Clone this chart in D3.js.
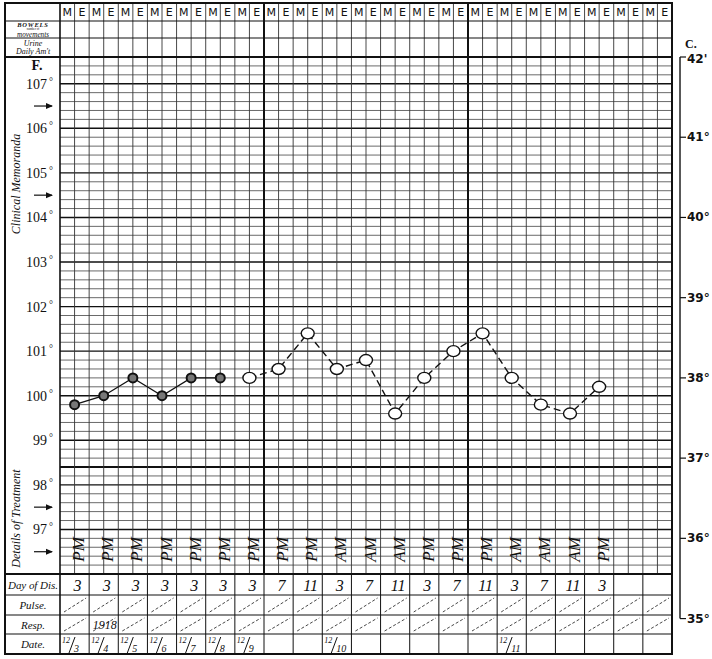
<!DOCTYPE html>
<html><head><meta charset="utf-8">
<script src="https://cdn.jsdelivr.net/npm/d3@7"></script>
<style>body{margin:0;background:#fff}svg{display:block}</style>
</head><body>
<script>
// ---------- data ----------
const dayCount = 21;
const shiftLabels = ["M", "E"];
const tempF = [99.8, 100.0, 100.4, 100.0, 100.4, 100.4, 100.4, 100.6, 101.4, 100.6,
               100.8, 99.6, 100.4, 101.0, 101.4, 100.4, 99.8, 99.6, 100.2];
const filledCount = 6;               // first readings drawn as filled dots, solid line
const meridiem = ["PM","PM","PM","PM","PM","PM","PM","PM","PM","AM",
                  "AM","AM","PM","PM","PM","AM","AM","AM","PM"];
const hourOfDay = ["3","3","3","3","3","3","3","7","11","3",
                   "7","11","3","7","11","3","7","11","3"];
const dateDays = [0, 1, 2, 3, 4, 5, 6, 9, 15];
const dateMonth = ["12","12","12","12","12","12","12","12","12"];
const dateDay = ["3","4","5","6","7","8","9","10","11"];
const yearNoteDay = 1;
const yearNote = "1918";
const fTicks = [107, 106, 105, 104, 103, 102, 101, 100, 99, 98, 97];
const fArrows = [106.5, 104.5, 97.5, 96.5];
const cTicks = [42, 41, 40, 39, 38, 37, 36, 35];
const cTickLabels = ["42'", "41°", "40°", "39°", "38°", "37°", "36°", "35°"];
const normalF = 98.4;

// ---------- layout ----------
const W = 712, H = 659;
const L = 5, C0 = 60, R = 672;
const rowTop = 3, rowHead = 21, rowBowel = 38, chartTop = 57, chartBot = 574;
const rowDay = 595, rowPulse = 615, rowResp = 634, rowDate = 654;

const svg = d3.select("body").append("svg").attr("width", W).attr("height", H);
const nCols = dayCount * 2;
const x = d3.scaleLinear().domain([0, nCols]).range([C0, R]);
const y = d3.scaleLinear().domain([96, 107.6]).range([chartBot, chartTop]);
const dayX = d => x(2 * d + 1);
const serif = "'Liberation Serif','DejaVu Serif',serif";
const ink = "#111";

// ---------- grid ----------
const g = svg.append("g");
const hLines = d3.range(0, 59).map(i => +(96 + i * 0.2).toFixed(1));
const isWhole = d => Math.abs(d - Math.round(d)) < 0.01;
g.selectAll("line.h").data(hLines).join("line")
  .attr("x1", C0).attr("x2", R).attr("y1", d => y(d)).attr("y2", d => y(d))
  .attr("stroke", d => isWhole(d) ? "#111" : "#444")
  .attr("stroke-width", d => isWhole(d) ? 1.4 : 0.8);
g.append("line").attr("x1", C0).attr("x2", R).attr("y1", y(normalF)).attr("y2", y(normalF))
  .attr("stroke", ink).attr("stroke-width", 2);
g.selectAll("line.v").data(d3.range(1, nCols)).join("line")
  .attr("x1", d => x(d)).attr("x2", d => x(d))
  .attr("y1", rowTop).attr("y2", chartBot)
  .attr("stroke", d => d % 14 === 0 ? ink : "#333")
  .attr("stroke-width", d => d % 14 === 0 ? 2 : 0.9);
[rowHead, rowBowel].forEach(v => g.append("line").attr("x1", L).attr("x2", R)
  .attr("y1", v).attr("y2", v).attr("stroke", ink).attr("stroke-width", 1.2));
[chartTop, chartBot].forEach(v => g.append("line").attr("x1", L).attr("x2", R)
  .attr("y1", v).attr("y2", v).attr("stroke", ink).attr("stroke-width", 2));
[rowDay, rowPulse, rowResp].forEach(v => g.append("line").attr("x1", L).attr("x2", R)
  .attr("y1", v).attr("y2", v).attr("stroke", ink).attr("stroke-width", 1.2));
g.selectAll("line.dv").data(d3.range(1, dayCount)).join("line")
  .attr("x1", d => x(2 * d)).attr("x2", d => x(2 * d))
  .attr("y1", chartBot).attr("y2", rowDate)
  .attr("stroke", ink).attr("stroke-width", 1);
[[rowDay, rowPulse], [rowPulse, rowResp]].forEach(([t, b]) => {
  g.selectAll(null).data(d3.range(dayCount)).join("line")
    .attr("x1", d => x(2 * d) + 4).attr("y1", b - 3)
    .attr("x2", d => x(2 * d + 2) - 3).attr("y2", t + 3)
    .attr("stroke", "#333").attr("stroke-width", 0.9).attr("stroke-dasharray", "3,2");
});
g.append("line").attr("x1", C0).attr("x2", C0).attr("y1", rowTop).attr("y2", rowDate)
  .attr("stroke", ink).attr("stroke-width", 1.6);
g.append("rect").attr("x", L).attr("y", rowTop).attr("width", R - L).attr("height", rowDate - rowTop)
  .attr("fill", "none").attr("stroke", ink).attr("stroke-width", 2);

// ---------- header text ----------
svg.append("g").selectAll("text").data(d3.range(nCols)).join("text")
  .attr("x", d => x(d + 0.5)).attr("y", 16).attr("text-anchor", "middle")
  .attr("font-family", "'DejaVu Sans',sans-serif").attr("font-size", 11).attr("fill", ink)
  .text(d => shiftLabels[d % 2]);

const lab = svg.append("g").attr("font-family", serif).attr("fill", ink);
lab.append("text").attr("x", 33).attr("y", 26.5).attr("text-anchor", "middle")
  .attr("font-size", 6.5).attr("font-weight", "bold").attr("font-style", "italic")
  .attr("letter-spacing", 0.8).text("BOWELS");
lab.append("text").attr("x", 33).attr("y", 30.2).attr("text-anchor", "middle")
  .attr("font-size", 3).text("number of");
lab.append("text").attr("x", 33).attr("y", 37.2).attr("text-anchor", "middle")
  .attr("font-size", 7.2).attr("font-style", "italic").text("movements");
lab.append("text").attr("x", 33).attr("y", 46).attr("text-anchor", "middle")
  .attr("font-size", 8).attr("font-style", "italic").text("Urine");
lab.append("text").attr("x", 33).attr("y", 54).attr("text-anchor", "middle")
  .attr("font-size", 8).attr("font-style", "italic").text("Daily Am't");
lab.append("text").attr("x", 37).attr("y", 70).attr("text-anchor", "middle")
  .attr("font-size", 14).attr("font-weight", "bold").text("F.");

const ft = lab.selectAll("text.ft").data(fTicks).join("text")
  .attr("x", 53).attr("y", d => y(d) + 5).attr("text-anchor", "end").attr("font-size", 14);
ft.append("tspan").text(d => d);
ft.append("tspan").attr("font-size", 10).attr("dx", 2).attr("dy", -4).text("°");

const ar = lab.selectAll("g.ar").data(fArrows).join("g")
  .attr("transform", d => `translate(0,${y(d)})`);
ar.append("line").attr("x1", 34).attr("x2", 52).attr("y1", 0).attr("y2", 0)
  .attr("stroke", ink).attr("stroke-width", 1.2);
ar.append("path").attr("d", "M46,-3L53,0L46,3Z").attr("fill", ink);

lab.append("text").attr("transform", `translate(20,${y(104.75)}) rotate(-90)`)
  .attr("text-anchor", "middle").attr("font-size", 12).attr("font-style", "italic")
  .text("Clinical Memoranda");
lab.append("text").attr("transform", `translate(20,${(y(normalF) + chartBot) / 2 - 2}) rotate(-90)`)
  .attr("text-anchor", "middle").attr("font-size", 12).attr("font-style", "italic")
  .text("Details of Treatment");

const rowLabels = [["Day of Dis.", (chartBot + rowDay) / 2], ["Pulse.", (rowDay + rowPulse) / 2],
                   ["Resp.", (rowPulse + rowResp) / 2], ["Date.", (rowResp + rowDate) / 2]];
lab.selectAll("text.rl").data(rowLabels).join("text")
  .attr("x", 33).attr("y", d => d[1] + 4).attr("text-anchor", "middle")
  .attr("font-size", 11).attr("font-style", "italic")
  .attr("textLength", d => d[0].length > 6 ? 50 : null)
  .text(d => d[0]);

// ---------- celsius scale ----------
const cx = 680;
const cy = c => y(c * 1.8 + 32);
const cs = svg.append("g").attr("fill", ink).attr("font-family", "'DejaVu Sans',sans-serif");
cs.append("line").attr("x1", cx).attr("x2", cx).attr("y1", cy(42)).attr("y2", cy(35))
  .attr("stroke", ink).attr("stroke-width", 1.4);
cs.selectAll("line.ct").data(cTicks).join("line")
  .attr("x1", cx).attr("x2", cx + 6).attr("y1", d => cy(d)).attr("y2", d => cy(d))
  .attr("stroke", ink).attr("stroke-width", 1.2);
cs.selectAll("text.cl").data(cTicks).join("text")
  .attr("x", cx + 7).attr("y", d => cy(d) + (d === 42 ? 6 : 4)).attr("font-size", 12).attr("font-weight", "bold")
  .text((d, i) => cTickLabels[i]);
cs.append("text").attr("x", 685).attr("y", 48).attr("font-family", serif)
  .attr("font-size", 12).attr("font-weight", "bold").text("C.");

// ---------- temperature line ----------
const pts = tempF.map((v, i) => ({ i, v }));
const line = d3.line().x(d => dayX(d.i)).y(d => y(d.v));
svg.append("path").datum(pts.slice(0, filledCount)).attr("d", line)
  .attr("fill", "none").attr("stroke", ink).attr("stroke-width", 1.3);
svg.append("path").datum(pts.slice(filledCount)).attr("d", line)
  .attr("fill", "none").attr("stroke", ink).attr("stroke-width", 1.4)
  .attr("stroke-dasharray", "7,4");
svg.selectAll("circle.f").data(pts.slice(0, filledCount)).join("circle")
  .attr("cx", d => dayX(d.i)).attr("cy", d => y(d.v)).attr("r", 4.5)
  .attr("fill", "#777").attr("stroke", ink).attr("stroke-width", 2);
svg.selectAll("ellipse.o").data(pts.slice(filledCount)).join("ellipse")
  .attr("cx", d => dayX(d.i)).attr("cy", d => y(d.v)).attr("rx", 6.5).attr("ry", 5.5)
  .attr("fill", "#fff").attr("stroke", ink).attr("stroke-width", 1.4);

// ---------- handwriting ----------
const hw = svg.append("g").attr("font-family", serif).attr("font-style", "italic").attr("fill", ink);
hw.selectAll("text.mer").data(meridiem).join("text")
  .attr("transform", (d, i) => `translate(${dayX(i) + 4},${y(96.55)}) rotate(-90)`)
  .attr("text-anchor", "middle").attr("dominant-baseline", "central")
  .attr("font-size", 17).text(d => d);
hw.selectAll("text.hr").data(hourOfDay).join("text")
  .attr("x", (d, i) => dayX(i) + 3).attr("y", (chartBot + rowDay) / 2 + 6)
  .attr("text-anchor", "middle").attr("font-size", 16).text(d => d);
hw.append("text").attr("x", dayX(yearNoteDay) + 1).attr("y", rowResp - 5)
  .attr("text-anchor", "middle").attr("font-size", 12).text(yearNote);
const dt = hw.selectAll("g.dt").data(dateDays).join("g")
  .attr("transform", d => `translate(${x(2 * d)},${rowResp})`);
dt.append("text").attr("x", 2).attr("y", 9).attr("font-size", 8).text((d, i) => dateMonth[i]);
dt.append("line").attr("x1", 9).attr("y1", 19).attr("x2", 15).attr("y2", 3)
  .attr("stroke", ink).attr("stroke-width", 1);
dt.append("text").attr("x", 14).attr("y", 18).attr("font-size", 10).text((d, i) => dateDay[i]);
</script>
</body></html>
